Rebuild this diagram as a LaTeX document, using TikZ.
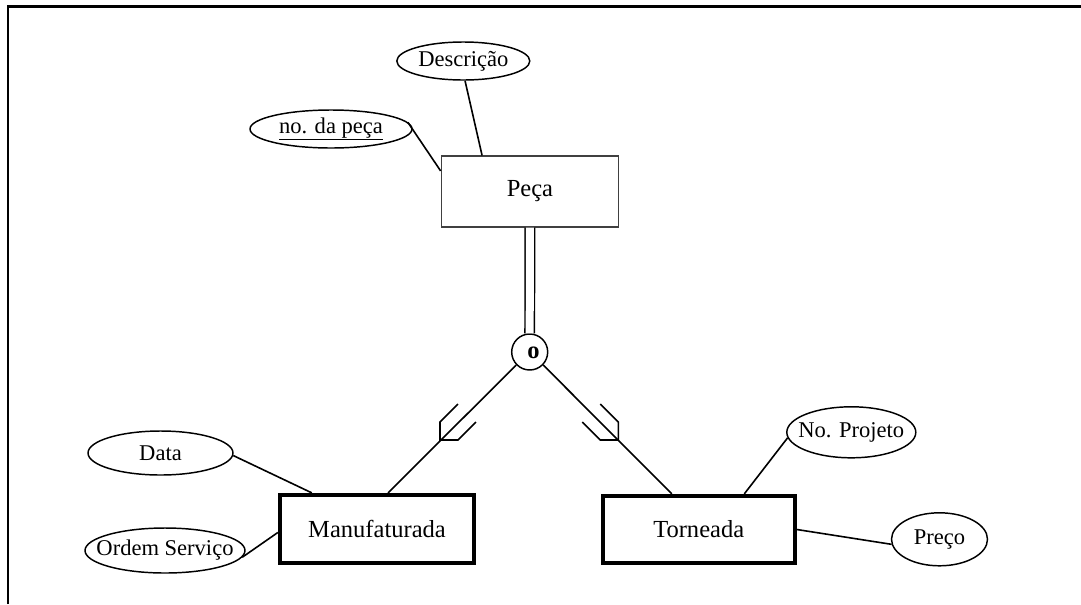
\documentclass[tikz,border=0pt]{standalone}
\usepackage{fontspec}
\setmainfont{Liberation Serif}
\usetikzlibrary{shapes.geometric,calc}
\tikzset{
  attr/.style={ellipse, draw, line width=1.1pt, inner sep=-12pt, font=\fontsize{16.9}{18}\selectfont},
  entweak/.style={rectangle, draw=black!75, line width=0.8pt, inner sep=0pt, font=\fontsize{18.4}{20}\selectfont},
  entstrong/.style={rectangle, draw, line width=3.2pt, inner sep=0pt, font=\fontsize{18.4}{20}\selectfont},
  conn/.style={line width=1.2pt},
  frameline/.style={line width=1.7pt},
}
\begin{document}
\begin{tikzpicture}[x=0.75pt,y=-0.75pt]
\useasboundingbox (0,0) rectangle (1081,604);
% frame
\draw[frameline] (8,604) -- (8,6.5) -- (1081,6.5);
% entities
\node[entweak, minimum width=177.5*0.75pt, minimum height=71*0.75pt] (peca) at (529.9,191.5) {Peça};
\node[entstrong, minimum width=194*0.75pt, minimum height=68*0.75pt] (manu) at (377,529) {Manufaturada};
\node[entstrong, minimum width=192*0.75pt, minimum height=67*0.75pt] (torn) at (698.7,529.5) {Torneada};
% attributes
\node[attr, minimum width=133*0.75pt, minimum height=38*0.75pt] (desc) at (463.3,61) {Descrição};
\node[attr, minimum width=162*0.75pt, minimum height=38*0.75pt] (nodp) at (331,129) {\underline{no. da peça}};
\node[attr, minimum width=145*0.75pt, minimum height=44*0.75pt] (data) at (160.5,453) {Data};
\node[attr, minimum width=160*0.75pt, minimum height=45*0.75pt] (ordem) at (165,550.5) {Ordem Serviço};
\node[attr, minimum width=129*0.75pt, minimum height=51*0.75pt] (nproj) at (851.3,432.3) {No. Projeto};
\node[attr, minimum width=96*0.75pt, minimum height=53*0.75pt] (preco) at (939.5,539.3) {Preço};
% specialization circle
\node[circle, draw, line width=1.1pt, minimum size=36*0.75pt, inner sep=0pt] (circ) at (529.7,352) {};
\node[inner sep=0pt, font=\fontsize{18.4}{20}\selectfont\bfseries] (circlbl) at (533.5,353) {o};
% connectors
\draw[conn] (desc.-85) -- (peca.143.5);
\draw[conn] (nodp.5) -- (peca.167.6);
\draw[line width=1.1pt, double, double distance=6pt] (peca.south) -- (circ.north);
\draw[conn] (circ.224) -- (manu.73);
\draw[conn] (circ.-44) -- (torn.127);
\draw[conn] (data.-2) -- (manu.151.7);
\draw[conn] (ordem.-5) -- (manu.182);
\draw[conn] (nproj.185) -- (torn.38);
\draw[conn] (torn.east) -- (preco.186);
% subset cups
\coordinate (cupL) at (440,440);
\coordinate (cupR) at (618.3,440);
\draw[conn] ($(cupL)+(18,-36)$) -- ++(-18,18) -- ++(0,18) -- ++(18,0) -- ++(18,-18);
\draw[conn] ($(cupR)+(-18,-36)$) -- ++(18,18) -- ++(0,18) -- ++(-18,0) -- ++(-18,-18);
\end{tikzpicture}
\end{document}
